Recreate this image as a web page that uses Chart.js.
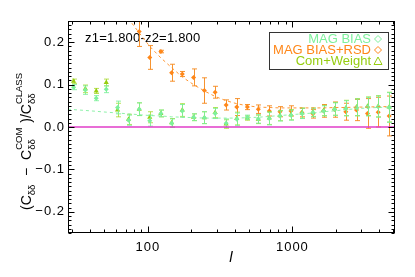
<!DOCTYPE html>
<html>
<head>
<meta charset="utf-8">
<script src="https://cdn.jsdelivr.net/npm/chart.js@4.4.1/dist/chart.umd.min.js"></script>
<style>
  html, body { margin: 0; padding: 0; background: #fff; }
  #wrap { width: 415px; height: 277px; }
</style>
</head>
<body>
<div id="wrap"><canvas id="myChart" width="415" height="277"></canvas></div>
<script>
// multipole bins
const ell = [30.6, 36.9, 43.9, 51.5, 61.7, 73.5, 87.1, 103, 123, 146, 173, 207, 246, 292, 348,
             412, 488, 581, 692, 820, 977, 1164, 1387, 1643, 1958, 2343, 2779, 3311, 3925, 4677];

// MAG BIAS
const magBias = [0.094, 0.087, 0.068, 0.089, 0.046, 0.016, 0.042, 0.015, 0.032, 0.009, 0.038, 0.023, 0.022, 0.032, 0.009,
                 0.018, 0.023, 0.019, 0.020, 0.026, 0.028, 0.032, 0.034, 0.038, 0.042, 0.044, 0.046, 0.048, 0.048, 0.046];
const magBiasErr = [0.006, 0.010, 0.006, 0.008, 0.015, 0.012, 0.015, 0.013, 0.008, 0.010, 0.015, 0.008, 0.014, 0.012, 0.010,
                    0.015, 0.005, 0.010, 0.015, 0.012, 0.012, 0.012, 0.010, 0.012, 0.015, 0.018, 0.020, 0.022, 0.025, 0.035];

// MAG BIAS+RSD (first bins are off the top of the plot)
const magRsd = [null, null, null, null, null, null, 0.225, 0.164, 0.178, 0.128, 0.125, 0.117, 0.086, 0.082, 0.052,
                0.047, 0.047, 0.042, 0.038, 0.036, 0.038, 0.034, 0.031, 0.038, 0.041, 0.036, 0.040, 0.032, 0.035, 0.026];
const magRsdErr = [0, 0, 0, 0, 0, 0, 0.035, 0.028, 0.003, 0.020, 0.006, 0.020, 0.030, 0.014, 0.012,
                   0.020, 0.006, 0.010, 0.012, 0.012, 0.012, 0.010, 0.010, 0.015, 0.018, 0.020, 0.025, 0.035, 0.035, 0.047];

// Com+Weight
const comWeight = [0.108, 0.090, 0.085, 0.105, 0.040, 0.018, 0.042, 0.023, 0.032, 0.010, 0.040, 0.023, 0.022, 0.034, 0.007,
                   0.020, 0.021, 0.018, 0.021, 0.027, 0.029, 0.033, 0.035, 0.039, 0.043, 0.045, 0.047, 0.049, 0.049, 0.047];
const comWeightErr = [0.005, 0.009, 0.006, 0.008, 0.016, 0.012, 0.015, 0.013, 0.008, 0.010, 0.015, 0.008, 0.014, 0.012, 0.010,
                      0.015, 0.005, 0.010, 0.015, 0.012, 0.012, 0.012, 0.010, 0.012, 0.015, 0.018, 0.020, 0.022, 0.025, 0.035];

// model curves (dashed)
const modelEll = [28, 30.6, 36.9, 43.9, 51.5, 61.7, 73.5, 87.1, 103, 123, 146, 173, 207, 246, 292, 348,
                  412, 488, 581, 692, 820, 977, 1164, 1387, 1643, 1958, 2343, 2779, 3311, 3925, 4677];
const modelRsd = [0.50, 0.47, 0.42, 0.37, 0.33, 0.29, 0.255, 0.222, 0.19, 0.163, 0.14, 0.118, 0.100, 0.085, 0.072, 0.062,
                  0.055, 0.050, 0.047, 0.046, 0.045, 0.045, 0.045, 0.045, 0.045, 0.046, 0.046, 0.047, 0.047, 0.048, 0.048];
const modelMag = [0.042, 0.041, 0.039, 0.037, 0.035, 0.033, 0.031, 0.029, 0.027, 0.026, 0.024, 0.023, 0.022, 0.021, 0.021, 0.021,
                  0.021, 0.022, 0.023, 0.025, 0.027, 0.029, 0.031, 0.033, 0.036, 0.038, 0.041, 0.043, 0.045, 0.046, 0.047];

const ellRange = [28, 5130];
const zeroLine = [0, 0];
const xTicks = [100, 1000];
const yTicks = [-0.2, -0.1, 0.0, 0.1, 0.2];

const GREEN = 'rgb(125,240,155)';
const ORANGE = 'rgb(255,135,25)';
const LIME = 'rgb(150,205,15)';
const MAGENTA = 'rgb(225,60,200)';
const FONT = 'Liberation Sans, Arial, sans-serif';

const pts = (xs, ys) => xs.map((x, i) => ({ x: x, y: ys[i] }));

// error bars drawn under each point dataset
const errorBars = {
  id: 'errorBars',
  beforeDatasetDraw(chart, args) {
    const ds = chart.data.datasets[args.index];
    if (!ds.errs) return;
    const { ctx, chartArea: a } = chart;
    const xs = chart.scales.x, ys = chart.scales.y;
    ctx.save();
    ctx.beginPath();
    ctx.rect(a.left, a.top, a.right - a.left, a.bottom - a.top);
    ctx.clip();
    ctx.strokeStyle = ds.errColor;
    ctx.lineWidth = 1;
    ds.data.forEach((p, i) => {
      if (p.y === null) return;
      const e = ds.errs[i];
      const px = Math.round(xs.getPixelForValue(p.x)) + 0.5;
      const y1 = ys.getPixelForValue(p.y - e), y2 = ys.getPixelForValue(p.y + e);
      ctx.beginPath();
      ctx.moveTo(px, y1); ctx.lineTo(px, y2);
      ctx.moveTo(px - 2.5, y1); ctx.lineTo(px + 2.5, y1);
      ctx.moveTo(px - 2.5, y2); ctx.lineTo(px + 2.5, y2);
      ctx.stroke();
    });
    ctx.restore();
  }
};

// frame, inward ticks, titles, legend, annotation
const decor = {
  id: 'decor',
  beforeDraw(chart) {
    // wide tracking for the tick labels, like the original plot font
    chart.ctx.letterSpacing = '1px';
  },
  beforeDatasetsDraw(chart) {
    const { ctx } = chart;
    ctx.save();
    ctx.letterSpacing = '0.2px';
    ctx.fillStyle = '#000';
    ctx.font = '13px ' + FONT;
    ctx.textBaseline = 'middle';
    ctx.textAlign = 'left';
    ctx.fillText('z1=1.800-z2=1.800', 85, 38);
    ctx.restore();
  },
  afterDraw(chart) {
    const { ctx, chartArea: a } = chart;
    const xs = chart.scales.x, ys = chart.scales.y;
    ctx.save();
    ctx.letterSpacing = '0px';
    ctx.strokeStyle = '#000';
    ctx.lineWidth = 1;
    const L = Math.round(a.left) + 0.5, R = Math.round(a.right) - 0.5;
    const T = Math.round(a.top) + 0.5, B = Math.round(a.bottom) - 0.5;
    ctx.strokeRect(L, T, R - L, B - T);
    ctx.beginPath();
    // y ticks every 0.01, major every 0.1
    for (let k = -25; k <= 25; k++) {
      const y = Math.round(ys.getPixelForValue(k / 100)) + 0.5;
      const len = (k % 10 === 0) ? 6 : 3;
      ctx.moveTo(L, y); ctx.lineTo(L + len, y);
      ctx.moveTo(R, y); ctx.lineTo(R - len, y);
    }
    // x ticks, log
    for (let d = 10; d <= 1000; d *= 10) {
      for (let m = 1; m <= 9; m++) {
        const v = d * m;
        if (v < ellRange[0] || v > ellRange[1]) continue;
        const x = Math.round(xs.getPixelForValue(v)) + 0.5;
        const len = (m === 1) ? 6 : 3;
        ctx.moveTo(x, B); ctx.lineTo(x, B - len);
        ctx.moveTo(x, T); ctx.lineTo(x, T + len);
      }
    }
    ctx.stroke();

    // x title
    ctx.fillStyle = '#000';
    ctx.font = 'italic 15px ' + FONT;
    ctx.textAlign = 'center';
    ctx.textBaseline = 'middle';
    ctx.fillText('l', 231, 258);

    // y title, rotated, with sub/superscripts
    const big = 14, small = 9.5;
    const segs = [
      { t: '(C', s: big },
      { sub: 'δδ' },
      { t: '  \u2212  C', s: big },
      { sub: 'δδ', sup: 'COM' },
      { t: ' )/C', s: big },
      { sub: 'δδ', sup: 'CLASS' }
    ];
    const width = (seg) => {
      if (seg.t) { ctx.font = seg.s + 'px ' + FONT; return ctx.measureText(seg.t).width; }
      ctx.font = small + 'px ' + FONT;
      return Math.max(ctx.measureText(seg.sub || '').width, ctx.measureText(seg.sup || '').width) + 1;
    };
    let total = 0;
    segs.forEach(s => total += width(s));
    ctx.translate(26, 141);
    ctx.rotate(-Math.PI / 2);
    ctx.textAlign = 'left';
    ctx.textBaseline = 'alphabetic';
    let cx = -total / 2;
    segs.forEach(seg => {
      const w = width(seg);
      if (seg.t) {
        ctx.font = seg.s + 'px ' + FONT;
        ctx.fillText(seg.t, cx, 5);
      } else {
        ctx.font = small + 'px ' + FONT;
        if (seg.sub) ctx.fillText(seg.sub, cx, 8.5);
        if (seg.sup) ctx.fillText(seg.sup, cx, -4.5);
      }
      cx += w;
    });
    ctx.restore();

    // legend
    ctx.save();
    ctx.letterSpacing = '0px';
    ctx.strokeStyle = '#333';
    ctx.lineWidth = 1;
    ctx.strokeRect(269.5, 32.5, 119, 37);
    ctx.font = '13px ' + FONT;
    ctx.textAlign = 'right';
    ctx.textBaseline = 'middle';
    const rows = [
      { label: 'MAG BIAS', c: GREEN, sym: 'diamond' },
      { label: 'MAG BIAS+RSD', c: ORANGE, sym: 'diamond' },
      { label: 'Com+Weight', c: LIME, sym: 'triangle' }
    ];
    rows.forEach((r, i) => {
      const y = 39 + i * 11;
      ctx.fillStyle = r.c;
      ctx.fillText(r.label, 371, y);
      ctx.strokeStyle = r.c;
      ctx.beginPath();
      const sx = 378;
      if (r.sym === 'diamond') {
        ctx.moveTo(sx, y - 3.5); ctx.lineTo(sx + 3.5, y); ctx.lineTo(sx, y + 3.5); ctx.lineTo(sx - 3.5, y); ctx.closePath();
      } else {
        ctx.moveTo(sx, y - 4); ctx.lineTo(sx + 4, y + 3.5); ctx.lineTo(sx - 4, y + 3.5); ctx.closePath();
      }
      ctx.stroke();
    });
    ctx.restore();
  }
};

const ctx = document.getElementById('myChart').getContext('2d');
new Chart(ctx, {
  type: 'scatter',
  data: {
    datasets: [
      {
        label: 'zero', data: pts(ellRange, zeroLine), showLine: true,
        borderColor: MAGENTA, borderWidth: 1.5, pointRadius: 0
      },
      {
        label: 'model RSD', data: pts(modelEll, modelRsd), showLine: true,
        borderColor: 'rgba(255,140,30,0.9)', borderWidth: 1, borderDash: [3, 3], pointRadius: 0
      },
      {
        label: 'model MAG', data: pts(modelEll, modelMag), showLine: true,
        borderColor: 'rgba(130,240,160,0.9)', borderWidth: 1, borderDash: [3, 3], pointRadius: 0
      },
      {
        label: 'MAG BIAS', data: pts(ell, magBias), errs: magBiasErr, errColor: 'rgba(120,240,150,0.85)',
        pointStyle: 'rectRot', pointRadius: 2.5, backgroundColor: GREEN, borderColor: GREEN, borderWidth: 0
      },
      {
        label: 'Com+Weight', data: pts(ell, comWeight), errs: comWeightErr, errColor: 'rgba(160,215,30,0.75)',
        pointStyle: 'triangle', pointRadius: 3, backgroundColor: LIME, borderColor: LIME, borderWidth: 0
      },
      {
        label: 'MAG BIAS+RSD', data: pts(ell, magRsd), errs: magRsdErr, errColor: 'rgba(245,135,25,0.9)',
        pointStyle: 'rectRot', pointRadius: 2.5, backgroundColor: ORANGE, borderColor: ORANGE, borderWidth: 0
      }
    ]
  },
  options: {
    responsive: false,
    animation: false,
    devicePixelRatio: 1,
    layout: { padding: { top: 21, right: 20, left: 0, bottom: 0 } },
    plugins: { legend: { display: false }, tooltip: { enabled: false } },
    scales: {
      x: {
        type: 'logarithmic', min: ellRange[0], max: ellRange[1],
        afterBuildTicks: (s) => { s.ticks = xTicks.map(v => ({ value: v })); },
        afterFit: (s) => { s.height = 44; },
        grid: { display: false, drawTicks: false },
        border: { display: false },
        ticks: {
          color: '#000', font: { family: FONT, size: 13 }, padding: 7, maxRotation: 0,
          callback: (v) => String(v)
        }
      },
      y: {
        min: -0.25, max: 0.25,
        afterBuildTicks: (s) => { s.ticks = yTicks.map(v => ({ value: v })); },
        afterFit: (s) => { s.width = 68; },
        grid: { display: false, drawTicks: false },
        border: { display: false },
        ticks: {
          color: '#000', font: { family: FONT, size: 13 }, padding: 3,
          callback: (v) => v.toFixed(1).replace('-', '\u2212')
        }
      }
    }
  },
  plugins: [errorBars, decor]
});
</script>
</body>
</html>
